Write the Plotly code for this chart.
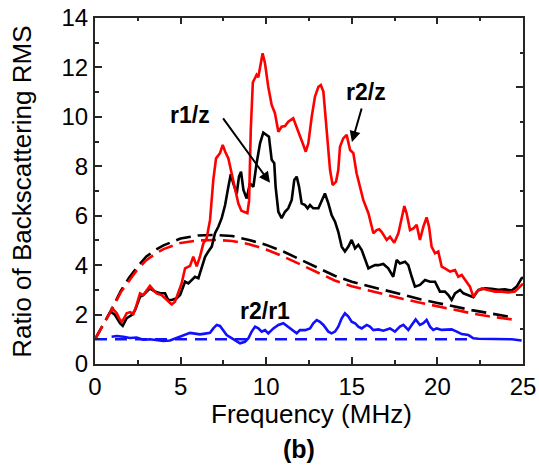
import plotly.graph_objects as go

# ---------------- data ----------------
red_f = [0.95, 1.10, 1.27, 1.45, 1.56, 1.70, 1.85, 2.05, 2.24, 2.43, 2.63, 2.82, 3.02, 3.21, 3.41, 3.60,
         3.89, 4.19, 4.48, 4.67, 4.87, 5.06, 5.26, 5.55, 5.74, 5.94, 6.13, 6.33, 6.52, 6.72, 6.91, 7.07,
         7.30, 7.46, 7.60, 7.79, 7.98, 8.18, 8.37, 8.55, 8.76, 8.90, 9.00, 9.10, 9.22, 9.44, 9.54, 9.70,
         9.79, 9.93, 10.12, 10.32, 10.51, 10.71, 10.90, 11.10, 11.29, 11.58, 11.78, 11.97, 12.17, 12.31,
         12.46, 12.66, 12.85, 13.05, 13.19, 13.34, 13.53, 13.73, 13.88, 14.08, 14.21, 14.31, 14.50, 14.70,
         14.90, 15.09, 15.28, 15.48, 15.67, 15.97, 16.26, 16.45, 16.60, 16.74, 17.04, 17.23, 17.48, 17.72,
         17.91, 18.07, 18.20, 18.40, 18.60, 18.79, 18.98, 19.18, 19.37, 19.51, 19.66, 19.86, 20.05, 20.25,
         20.44, 20.74, 21.03, 21.22, 21.42, 21.61, 21.90, 22.10, 22.30, 22.59, 22.98, 23.36, 23.75, 24.14,
         24.53, 24.92, 25.00]
red_v = [2.30, 2.20, 2.05, 1.80, 1.71, 1.85, 2.05, 2.10, 2.02, 2.39, 2.86, 2.79, 3.00, 3.16, 3.00, 2.86,
         2.79, 2.59, 2.41, 2.52, 2.86, 3.26, 3.87, 3.97, 4.34, 3.95, 4.34, 4.88, 5.08, 5.83, 7.45, 8.32,
         8.53, 8.86, 8.60, 8.32, 7.72, 7.04, 6.50, 6.20, 6.12, 6.10, 6.60, 9.50, 11.40, 11.70, 11.60, 12.30,
         12.57, 12.17, 11.22, 10.48, 10.15, 9.40, 9.60, 9.63, 9.80, 9.94, 9.60, 9.27, 8.86, 8.59,
         8.93, 10.01, 10.82, 11.22, 11.29, 11.02, 9.47, 7.85, 7.24, 7.38, 7.85, 8.79, 9.13, 9.27,
         8.66, 8.53, 7.72, 7.11, 6.64, 6.10, 5.29, 5.42, 5.45, 5.35, 5.02, 5.15, 4.91, 5.29,
         5.83, 6.39, 6.10, 5.42, 5.49, 5.63, 5.02, 5.56, 5.93, 5.56, 4.75, 4.48, 4.55, 3.94,
         3.87, 3.74, 3.80, 3.53, 3.60, 3.40, 3.13, 2.72, 2.93, 3.06, 3.00, 2.93, 2.93, 2.90,
         2.93, 3.20, 3.25]

black_f = [0.95, 1.17, 1.46, 1.62, 1.85, 2.14, 2.34, 2.63, 2.82, 3.02, 3.21, 3.50, 3.80, 4.09, 4.28, 4.48,
           4.77, 4.97, 5.26, 5.45, 5.65, 5.84, 6.04, 6.23, 6.43, 6.62, 6.82, 7.01, 7.21, 7.40, 7.60, 7.79,
           7.93, 8.08, 8.28, 8.41, 8.53, 8.67, 8.86, 9.05, 9.25, 9.44, 9.64, 9.83, 10.03, 10.16, 10.32,
           10.47, 10.55, 10.71, 10.90, 11.10, 11.29, 11.49, 11.64, 11.78, 11.92, 12.07, 12.27, 12.42, 12.56,
           12.75, 13.05, 13.28, 13.43, 13.63, 13.82, 14.02, 14.21, 14.41, 14.60, 14.80, 14.99, 15.19, 15.38,
           15.58, 15.77, 15.97, 16.16, 16.36, 16.55, 16.84, 17.13, 17.42, 17.62, 17.81, 18.11, 18.30, 18.50,
           18.69, 18.98, 19.28, 19.57, 19.86, 20.15, 20.44, 20.64, 20.83, 21.03, 21.32, 21.52, 21.81, 22.10,
           22.40, 22.79, 23.17, 23.56, 23.95, 24.34, 24.63, 24.92, 25.00]
black_v = [2.10, 1.98, 1.65, 1.54, 1.85, 1.98, 2.18, 2.72, 2.79, 2.93, 3.06, 2.93, 2.86, 2.86, 2.59, 2.59,
           2.66, 2.79, 3.33, 3.26, 3.40, 3.53, 3.47, 3.87, 4.34, 4.55, 4.75, 5.29, 5.56, 5.90, 6.43, 7.17,
           7.68, 7.30, 6.90, 7.58, 7.78, 7.04, 6.70, 7.31, 7.17, 8.12, 8.93, 9.36, 9.27, 9.20, 8.26,
           8.12, 7.17, 6.16, 5.90, 6.16, 6.30, 6.64, 7.45, 7.58, 7.17, 6.50, 6.43, 6.30, 6.43,
           6.30, 6.30, 6.64, 6.90, 6.50, 6.03, 5.76, 5.35, 4.75, 4.55, 4.75, 5.02, 4.68, 4.82,
           4.61, 4.21, 3.87, 3.94, 4.00, 4.00, 4.05, 3.87, 3.53, 4.21, 4.07, 4.14, 4.00, 3.53,
           3.13, 3.20, 3.40, 3.33, 3.33, 2.93, 2.93, 2.79, 2.59, 2.86, 3.00, 2.86, 2.79, 2.70,
           3.00, 3.06, 3.04, 3.00, 3.02, 2.97, 3.13, 3.47, 3.50]

blue_f = [0.97, 1.27, 1.66, 2.04, 2.43, 2.82, 3.21, 3.60, 3.99, 4.38, 4.77, 5.16, 5.55, 5.84, 6.13, 6.43,
          6.72, 6.91, 7.11, 7.30, 7.50, 7.69, 7.98, 8.28, 8.47, 8.76, 8.96, 9.15, 9.35, 9.54, 9.74, 9.93,
          10.12, 10.42, 10.71, 11.00, 11.29, 11.58, 11.78, 11.97, 12.27, 12.56, 12.75, 12.95, 13.14, 13.34,
          13.63, 13.82, 14.02, 14.21, 14.41, 14.60, 14.80, 14.99, 15.19, 15.38, 15.58, 15.87, 16.06, 16.26,
          16.55, 16.84, 17.23, 17.52, 17.81, 18.01, 18.30, 18.50, 18.73, 18.98, 19.18, 19.37, 19.57, 19.76,
          19.96, 20.25, 20.54, 20.83, 21.13, 21.42, 21.81, 22.10, 22.40, 22.79, 23.17, 23.56, 23.95, 24.34,
          24.92]
blue_v = [1.10, 1.13, 1.10, 1.05, 1.07, 0.98, 1.00, 0.98, 0.93, 0.95, 1.05, 1.17, 1.26, 1.23, 1.20, 1.23,
          1.26, 1.44, 1.58, 1.54, 1.37, 1.17, 1.05, 0.90, 0.84, 0.90, 1.04, 1.31, 1.51, 1.44, 1.31, 1.37,
          1.24, 1.44, 1.58, 1.65, 1.51, 1.37, 1.24, 1.37, 1.37, 1.44, 1.65, 1.78, 1.71, 1.58,
          1.31, 1.24, 1.31, 1.51, 1.85, 2.05, 1.92, 1.71, 1.65, 1.51, 1.44, 1.58, 1.51, 1.37,
          1.40, 1.35, 1.44, 1.31, 1.51, 1.58, 1.38, 1.58, 1.80, 1.58, 1.65, 1.78, 1.51, 1.38,
          1.44, 1.38, 1.38, 1.40, 1.31, 1.21, 1.17, 1.04, 1.02, 1.01, 1.02, 1.00, 1.00, 1.00,
          0.95]

fit_f = [0.0, 0.5, 1.0, 1.5, 2.0, 2.5, 3.0, 3.5, 4.0, 5.0, 6.0, 7.0, 8.0, 9.0, 10.0, 11.0, 12.0,
         13.0, 14.0, 15.0, 16.0, 17.0, 18.0, 19.0, 20.0, 21.0, 22.0, 23.0, 24.0, 24.4]
black_fit = [1.00, 1.60, 2.25, 2.95, 3.50, 3.95, 4.35, 4.60, 4.80, 5.08, 5.20, 5.22, 5.18, 5.02, 4.82,
             4.55, 4.23, 3.90, 3.57, 3.33, 3.15, 2.95, 2.78, 2.62, 2.47, 2.32, 2.18, 2.06, 1.94, 1.89]
red_fit = [1.00, 1.60, 2.22, 2.90, 3.40, 3.85, 4.20, 4.45, 4.65, 4.90, 5.00, 5.02, 4.98, 4.85, 4.63,
           4.35, 4.03, 3.70, 3.38, 3.15, 2.97, 2.80, 2.63, 2.48, 2.33, 2.18, 2.05, 1.93, 1.83, 1.80]

blue_fit_f = [0.0, 21.8]
blue_fit_v = [1.0, 1.0]

x_ticks = [0, 5, 10, 15, 20, 25]
y_ticks = [0, 2, 4, 6, 8, 10, 12, 14]

FONT = "Liberation Sans, Arial, sans-serif"
DASH_RB = "15px,7px"
DASH_B = "12px,8px"
LW = 2.6
AXC = "#262626"

fig = go.Figure()
fig.add_trace(go.Scatter(x=fit_f, y=black_fit, mode="lines",
                         line=dict(color="black", width=LW, dash=DASH_RB)))
fig.add_trace(go.Scatter(x=fit_f, y=red_fit, mode="lines",
                         line=dict(color="#ff0000", width=LW, dash=DASH_RB)))
fig.add_trace(go.Scatter(x=blue_fit_f, y=blue_fit_v, mode="lines",
                         line=dict(color="#1010ff", width=LW, dash=DASH_B)))
fig.add_trace(go.Scatter(x=black_f, y=black_v, mode="lines",
                         line=dict(color="black", width=LW)))
fig.add_trace(go.Scatter(x=red_f, y=red_v, mode="lines",
                         line=dict(color="#ff0000", width=LW)))
fig.add_trace(go.Scatter(x=blue_f, y=blue_v, mode="lines",
                         line=dict(color="#1010ff", width=LW)))
# invisible trace to activate top/right frame axes
fig.add_trace(go.Scatter(x=[0], y=[0], xaxis="x2", yaxis="y2", mode="markers",
                         marker=dict(opacity=0), hoverinfo="skip"))

fig.update_layout(
    width=539, height=471,
    margin=dict(l=95, r=16, t=18, b=107, autoexpand=False),
    paper_bgcolor="white", plot_bgcolor="white",
    showlegend=False,
    font=dict(family=FONT, color="black"),
    xaxis=dict(range=[0, 25], tickvals=x_ticks, ticks="inside", ticklen=7, tickwidth=1.5,
               tickcolor=AXC, showline=True, linecolor=AXC, linewidth=2, showgrid=False,
               zeroline=False, automargin=False, tickfont=dict(size=24, family=FONT, color="black"),
               minor=dict(dtick=2.5, tick0=0, ticks="inside", ticklen=4, tickwidth=1.5, tickcolor=AXC)),
    yaxis=dict(range=[0, 14], tickvals=y_ticks, ticks="inside", ticklen=7, tickwidth=1.5,
               tickcolor=AXC, showline=True, linecolor=AXC, linewidth=2, showgrid=False,
               zeroline=False, automargin=False, tickfont=dict(size=24, family=FONT, color="black"),
               minor=dict(dtick=1, tick0=0, ticks="inside", ticklen=4, tickwidth=1.5, tickcolor=AXC)),
    xaxis2=dict(range=[0, 25], overlaying="x", side="top", anchor="y2", dtick=5, tick0=0,
                ticks="inside", ticklen=6, tickwidth=1.5, tickcolor=AXC, showticklabels=False,
                showline=True, linecolor=AXC, linewidth=2, showgrid=False, zeroline=False,
                automargin=False,
                minor=dict(dtick=2.5, tick0=0, ticks="inside", ticklen=3, tickwidth=1.5, tickcolor=AXC)),
    yaxis2=dict(range=[0, 14], overlaying="y", side="right", anchor="x2", dtick=2.8, tick0=0,
                ticks="inside", ticklen=7, tickwidth=1.5, tickcolor=AXC, showticklabels=False,
                showline=True, linecolor=AXC, linewidth=2, showgrid=False, zeroline=False,
                automargin=False,
                minor=dict(dtick=1.4, tick0=0, ticks="inside", ticklen=3, tickwidth=1.5, tickcolor=AXC)),
)

ann = []
ann.append(dict(text="Ratio of Backscattering RMS", xref="paper", yref="paper",
                x=-0.171, y=0.497, textangle=-90, showarrow=False,
                xanchor="center", yanchor="middle", font=dict(size=26, family=FONT, color="black")))
ann.append(dict(text="Frequency (MHz)", xref="paper", yref="paper",
                x=0.505, y=-0.145, showarrow=False,
                xanchor="center", yanchor="middle", font=dict(size=26, family=FONT, color="black")))
ann.append(dict(text="<b>(b)</b>", xref="paper", yref="paper",
                x=0.477, y=-0.246, showarrow=False,
                xanchor="center", yanchor="middle", font=dict(size=25, family=FONT, color="black")))
for txt, fx, fy in [("r1/z", 5.55, 10.08), ("r2/z", 15.83, 11.0), ("r2/r1", 9.93, 2.14)]:
    ann.append(dict(text="<b>%s</b>" % txt, x=fx, y=fy, xref="x", yref="y", showarrow=False,
                    xanchor="center", yanchor="middle", font=dict(size=23, family=FONT, color="black")))
for (tx, ty, hx, hy) in [(7.42, 10.0, 10.22, 7.33), (15.6, 10.4, 15.01, 8.98)]:
    ann.append(dict(text="", x=hx, y=hy, ax=tx, ay=ty, xref="x", yref="y", axref="x", ayref="y",
                    showarrow=True, arrowhead=2, arrowsize=1.1, arrowwidth=2, arrowcolor="black",
                    standoff=0, startstandoff=0))
fig.update_layout(annotations=ann)

fig.write_html("out.html", config={"displayModeBar": False},
               post_script="document.body.style.margin='0px';document.body.style.overflow='hidden';")
